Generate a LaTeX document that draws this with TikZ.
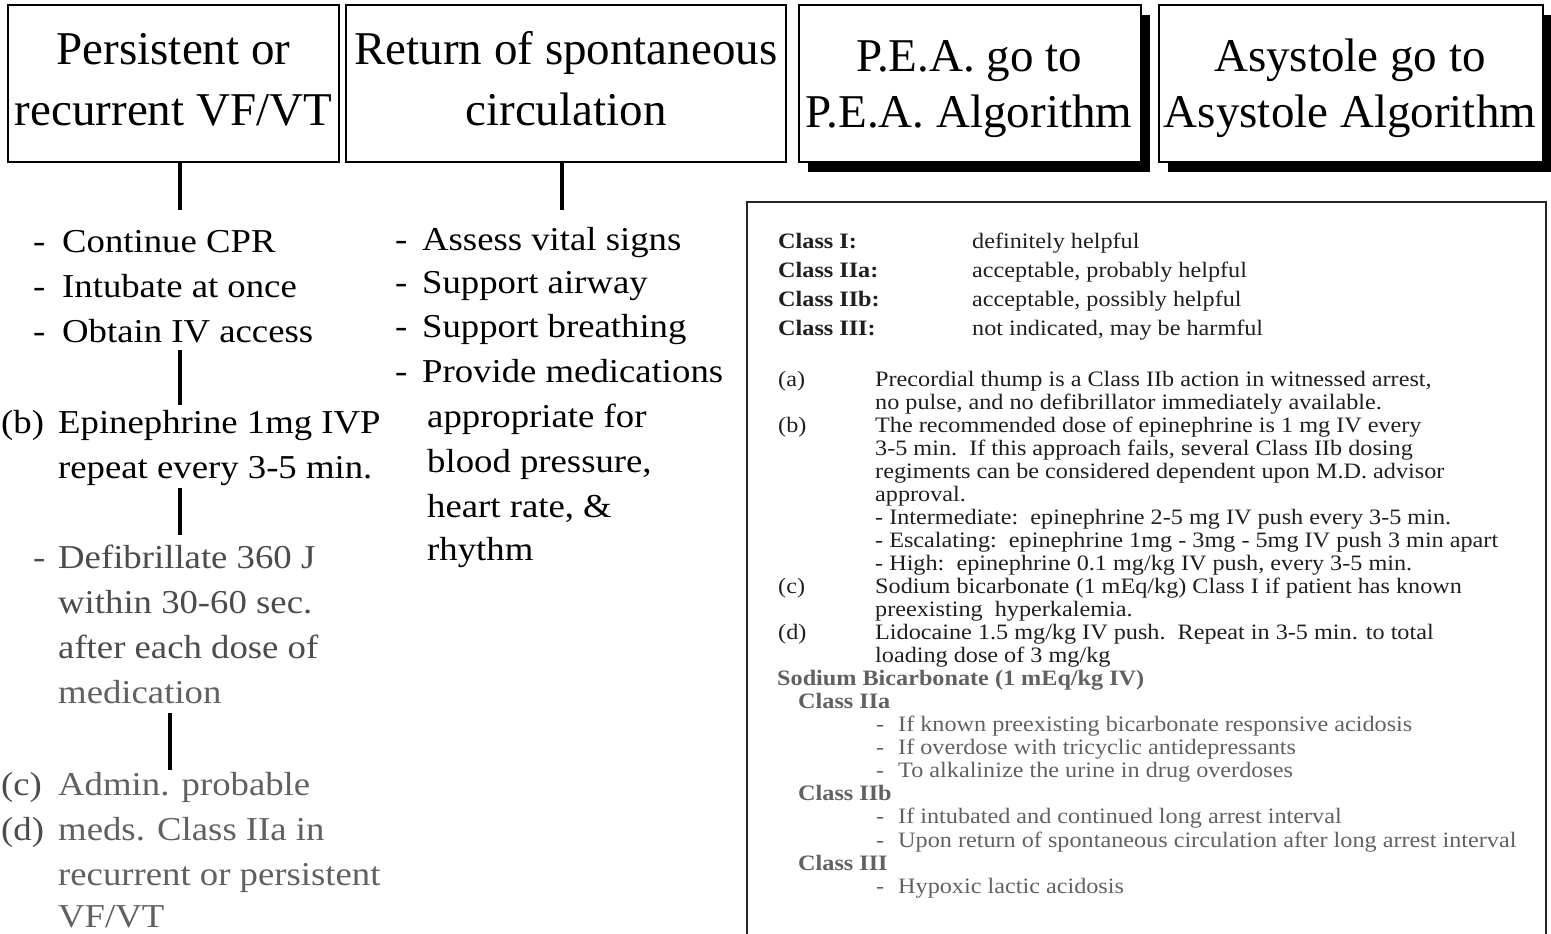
\documentclass[tikz,border=0pt]{standalone}
\usepackage{fontspec}
\setmainfont{Liberation Serif}
\newfontfamily\wideserif[FakeStretch=1.1]{Liberation Serif}
\usetikzlibrary{shadows}
\definecolor{inkA}{gray}{0.12}
\definecolor{inkB}{gray}{0.30}
\definecolor{inkC}{gray}{0.38}
\newcommand\dsh[2]{\makebox[#1][l]{-}#2}
\newcommand\cls[2]{\makebox[194pt][l]{\bfseries #1}#2}
\newcommand\nte[2]{\makebox[97pt][l]{#1}#2}
\begin{document}
\begin{tikzpicture}[x=1pt,y=-1pt,
  hbox/.style={draw, line width=2pt, minimum width=#1, minimum height=157pt, inner sep=0pt, fill=white},
  shbox/.style={hbox=#1, drop shadow={shadow xshift=9pt, shadow yshift=-10pt, fill=black, opacity=1}},
  htxt/.style={anchor=base, font=\fontsize{47}{59}\selectfont, inner sep=0pt},
  ltxt/.style={anchor=base west, font=\wideserif\fontsize{33.4}{45}\selectfont, inner sep=0pt},
  ptxt/.style={anchor=base west, font=\wideserif\fontsize{22}{23}\selectfont, inner sep=0pt, text=inkA},
  ptxtg/.style={ptxt, text=inkC},
  conn/.style={line width=4pt},
]
\useasboundingbox (0,0) rectangle (1551,934);

% top boxes
\node[hbox=331pt] (b1) at (173.5,83.5) {};
\node[hbox=440pt] (b2) at (566,83.5) {};
\node[shbox=342pt] (b3) at (970,83.5) {};
\node[shbox=384pt] (b4) at (1351,83.5) {};
\node[htxt] (b1a) at (173.5,65) {Persistent or};
\node[htxt] (b1b) at (173.5,125) {recurrent VF/VT};
\node[htxt] (b2a) at (566,65) {Return of spontaneous};
\node[htxt] (b2b) at (566,125) {circulation};
\node[htxt] (b3a) at (969,71) {P.E.A. go to};
\node[htxt] (b3b) at (969,127) {P.E.A. Algorithm};
\node[htxt] (b4a) at (1350,71) {Asystole go to};
\node[htxt] (b4b) at (1350,127) {Asystole Algorithm};

% connectors
\coordinate (c1) at (179.5,210);
\coordinate (c2a) at (179.5,350);
\coordinate (c2b) at (179.5,405);
\coordinate (c3a) at (179.5,488);
\coordinate (c3b) at (179.5,535);
\coordinate (c4a) at (170,713);
\coordinate (c4b) at (170,770);
\coordinate (m1) at (562,210);
\draw[conn] (b1.south -| c1) -- (c1);
\draw[conn] (c2a) -- (c2b);
\draw[conn] (c3a) -- (c3b);
\draw[conn] (c4a) -- (c4b);
\draw[conn] (b2.south -| m1) -- (m1);

% left column
\node[ltxt] (l1) at (33,252) {\dsh{29pt}{Continue CPR}};
\node[ltxt] (l2) at (33,297) {\dsh{29pt}{Intubate at once}};
\node[ltxt] (l3) at (33,342) {\dsh{29pt}{Obtain IV access}};
\node[ltxt] (lb) at (1,433) {(b)};
\node[ltxt] (l4) at (58,433) {Epinephrine 1mg IVP};
\node[ltxt] (l5) at (58,478) {repeat every 3-5 min.};
\node[ltxt, text=inkB] (l6) at (33,568) {\dsh{25pt}{Defibrillate 360 J}};
\node[ltxt, text=inkB] (l7) at (58,613) {within 30-60 sec.};
\node[ltxt, text=inkB] (l8) at (58,658) {after each dose of};
\node[ltxt, text=inkC] (l9) at (58,703) {medication};
\node[ltxt, text=inkB] (lc) at (1,795) {(c)};
\node[ltxt, text=inkC] (l10) at (58,795) {Admin. probable};
\node[ltxt, text=inkB] (ld) at (1,840) {(d)};
\node[ltxt, text=inkC] (l11) at (58,840) {meds. Class IIa in};
\node[ltxt, text=inkC] (l12) at (58,885) {recurrent or persistent};
\node[ltxt, text=inkC] (l13) at (58,927) {VF/VT};

% middle column
\node[ltxt] (m1t) at (395,250) {\dsh{27pt}{Assess vital signs}};
\node[ltxt] (m2t) at (395,293) {\dsh{27pt}{Support airway}};
\node[ltxt] (m3t) at (395,337) {\dsh{27pt}{Support breathing}};
\node[ltxt] (m4t) at (395,382) {\dsh{27pt}{Provide medications}};
\node[ltxt] (m5t) at (427,427) {appropriate for};
\node[ltxt] (m6t) at (427,472) {blood pressure,};
\node[ltxt] (m7t) at (427,517) {heart rate, \&};
\node[ltxt] (m8t) at (427,560) {rhythm};

% notes panel
\coordinate (pbl) at (747,934);
\coordinate (ptl) at (747,202);
\coordinate (ptr) at (1546,202);
\coordinate (pbr) at (1546,934);
\draw[line width=1.8pt, draw=black!85] (pbl) -- (ptl) -- (ptr) -- (pbr);

\node[ptxt] (p1) at (778,248) {\cls{Class I:}{definitely helpful}};
\node[ptxt] (p2) at (778,277) {\cls{Class IIa:}{acceptable, probably helpful}};
\node[ptxt] (p3) at (778,306) {\cls{Class IIb:}{acceptable, possibly helpful}};
\node[ptxt] (p4) at (778,335) {\cls{Class III:}{not indicated, may be harmful}};

\node[ptxt] (n1) at (778,386) {\nte{(a)}{Precordial thump is a Class IIb action in witnessed arrest,}};
\node[ptxt] (n2) at (875,409.05) {no pulse, and no defibrillator immediately available.};
\node[ptxt] (n3) at (778,432.1) {\nte{(b)}{The recommended dose of epinephrine is 1 mg IV every}};
\node[ptxt] (n4) at (875,455.15) {3-5 min.\ \ If this approach fails, several Class IIb dosing};
\node[ptxt] (n5) at (875,478.2) {regiments can be considered dependent upon M.D. advisor};
\node[ptxt] (n6) at (875,501.25) {approval.};
\node[ptxt] (n7) at (875,524.3) {- Intermediate:\ \ epinephrine 2-5 mg IV push every 3-5 min.};
\node[ptxt] (n8) at (875,547.35) {- Escalating:\ \ epinephrine 1mg - 3mg - 5mg IV push 3 min apart};
\node[ptxt] (n9) at (875,570.4) {- High:\ \ epinephrine 0.1 mg/kg IV push, every 3-5 min.};
\node[ptxt] (n10) at (778,593.45) {\nte{(c)}{Sodium bicarbonate (1 mEq/kg) Class I if patient has known}};
\node[ptxt] (n11) at (875,616.5) {preexisting\ \ hyperkalemia.};
\node[ptxt] (n12) at (778,639.55) {\nte{(d)}{Lidocaine 1.5 mg/kg IV push.\ \ Repeat in 3-5 min. to total}};
\node[ptxt] (n13) at (875,662.6) {loading dose of 3 mg/kg};
\node[ptxtg, font=\wideserif\bfseries\fontsize{22}{23}\selectfont] (s1) at (777,685.65) {Sodium Bicarbonate (1 mEq/kg IV)};
\node[ptxtg, font=\wideserif\bfseries\fontsize{22}{23}\selectfont] (s2) at (798,708.7) {Class IIa};
\node[ptxtg] (s3) at (876,731.75) {\dsh{22pt}{If known preexisting bicarbonate responsive acidosis}};
\node[ptxtg] (s4) at (876,754.8) {\dsh{22pt}{If overdose with tricyclic antidepressants}};
\node[ptxtg] (s5) at (876,777.85) {\dsh{22pt}{To alkalinize the urine in drug overdoses}};
\node[ptxtg, font=\wideserif\bfseries\fontsize{22}{23}\selectfont] (s6) at (798,800.9) {Class IIb};
\node[ptxtg] (s7) at (876,823.95) {\dsh{22pt}{If intubated and continued long arrest interval}};
\node[ptxtg] (s8) at (876,847) {\dsh{22pt}{Upon return of spontaneous circulation after long arrest interval}};
\node[ptxtg, font=\wideserif\bfseries\fontsize{22}{23}\selectfont] (s9) at (798,870.05) {Class III};
\node[ptxtg] (s10) at (876,893.1) {\dsh{22pt}{Hypoxic lactic acidosis}};
\end{tikzpicture}
\end{document}
